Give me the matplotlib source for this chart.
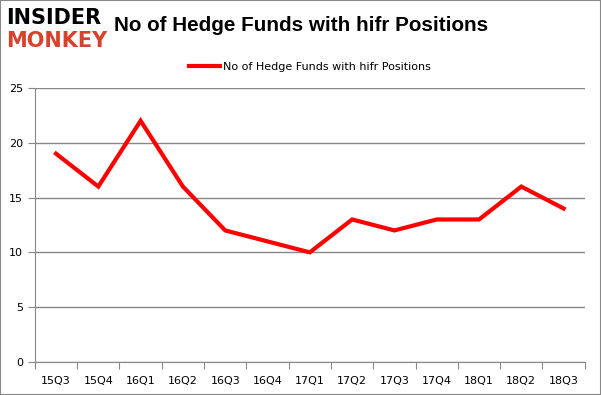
import matplotlib
matplotlib.use("Agg")
import matplotlib.pyplot as plt

# data
quarters = ["15Q3", "15Q4", "16Q1", "16Q2", "16Q3", "16Q4", "17Q1",
            "17Q2", "17Q3", "17Q4", "18Q1", "18Q2", "18Q3"]
funds = [19, 16, 22, 16, 12, 11, 10, 13, 12, 13, 13, 16, 14]
yticks = [0, 5, 10, 15, 20, 25]

fig = plt.figure(figsize=(6.01, 3.95), dpi=100)
ax = fig.add_axes([0.058, 0.0835, 0.915, 0.694])

x = list(range(len(quarters)))
ax.plot(x, funds, color="#ff0000", lw=3, solid_joinstyle="miter",
        label="No of Hedge Funds with hifr Positions")

ax.set_xlim(-0.5, len(quarters) - 0.5)
ax.set_ylim(0, 25)
ax.set_yticks(yticks)
ax.set_xticks([i - 0.5 for i in range(len(quarters) + 1)], minor=False)
ax.set_xticklabels([])
ax.set_xticks(x, minor=True)
ax.set_xticklabels(quarters, minor=True)
ax.tick_params(axis="x", which="major", length=5, color="#888888", direction="out")
ax.tick_params(axis="x", which="minor", length=0, labelsize=8, pad=10)
ax.tick_params(axis="y", length=5, color="#888888", labelsize=8)
ax.grid(axis="y", color="#888888", lw=1)
ax.set_axisbelow(True)
for s in ["top", "right"]:
    ax.spines[s].set_visible(False)
for s in ["left", "bottom"]:
    ax.spines[s].set_color("#888888")

ax.legend(loc="upper center", bbox_to_anchor=(0.5, 1.13), frameon=False,
          fontsize=8, handlelength=2.8, handletextpad=0.2)

fig.text(0.19, 0.935, "No of Hedge Funds with hifr Positions",
         fontsize=14.9, fontweight="bold", va="center", family="Liberation Sans")
fig.text(0.01, 0.955, "INSIDER", fontsize=15, fontweight="heavy",
         color="black", va="center", family="DejaVu Sans")
fig.text(0.01, 0.895, "MONKEY", fontsize=15, fontweight="heavy",
         color="#d9412b", va="center", family="DejaVu Sans")

# outer border
fig.patches.append(plt.Rectangle((0, 0), 1, 1, transform=fig.transFigure,
                                 fill=False, edgecolor="#888888", lw=1.5))

fig.savefig("out.png", dpi=100)
